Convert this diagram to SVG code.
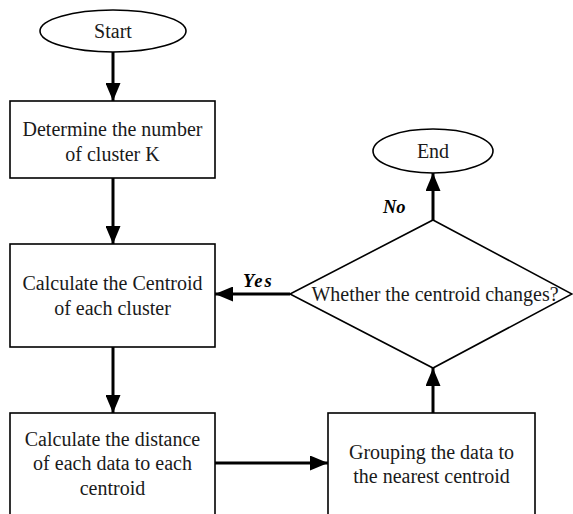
<svg xmlns="http://www.w3.org/2000/svg" width="573" height="514" viewBox="0 0 573 514">
  <style>
    .shape { fill: #ffffff; stroke: #000000; stroke-width: 1.6; }
    .label { font-family: "Liberation Serif", "Times New Roman", serif; font-size: 20px; fill: #1a1a1a; text-anchor: middle; }
    .tag { font-family: "Liberation Serif", "Times New Roman", serif; font-size: 18.5px; font-weight: bold; font-style: italic; fill: #000000; }
    .link { fill: none; stroke: #000000; stroke-width: 3; }
  </style>
  <defs>
    <marker id="arrow" viewBox="0 0 18 15" refX="18" refY="7.5" markerWidth="18" markerHeight="15" markerUnits="userSpaceOnUse" orient="auto">
      <path d="M0,0 L18,7.5 L0,15 Z" fill="#000000"/>
    </marker>
  </defs>
  <rect width="573" height="514" fill="#ffffff"/>

  <g id="start">
    <ellipse class="shape" cx="113" cy="31" rx="73" ry="21"/>
    <text class="label" x="113" y="38">Start</text>
  </g>

  <g id="determine-k">
    <rect class="shape" x="10" y="101" width="205" height="77"/>
    <text class="label" x="112.5" y="136">Determine the number</text>
    <text class="label" x="112.5" y="161">of cluster K</text>
  </g>

  <g id="calc-centroid">
    <rect class="shape" x="10" y="244" width="205" height="103"/>
    <text class="label" x="112.5" y="290">Calculate the Centroid</text>
    <text class="label" x="112.5" y="315">of each cluster</text>
  </g>

  <g id="calc-distance">
    <rect class="shape" x="10" y="413" width="205" height="110"/>
    <text class="label" x="112.5" y="446">Calculate the distance</text>
    <text class="label" x="112.5" y="470">of each data to each</text>
    <text class="label" x="112.5" y="495">centroid</text>
  </g>

  <g id="grouping">
    <rect class="shape" x="328" y="413" width="207" height="110"/>
    <text class="label" x="431.5" y="459">Grouping the data to</text>
    <text class="label" x="431.5" y="483">the nearest centroid</text>
  </g>

  <g id="decision">
    <polygon class="shape" points="433,220 572,294 433,368 290,294"/>
    <text class="label" x="435" y="301">Whether the centroid changes?</text>
  </g>

  <g id="end">
    <ellipse class="shape" cx="433" cy="151" rx="60" ry="22"/>
    <text class="label" x="433" y="158">End</text>
  </g>

  <g id="connectors">
    <line class="link" x1="113" y1="52" x2="113" y2="101" marker-end="url(#arrow)"/>
    <line class="link" x1="113" y1="178" x2="113" y2="244" marker-end="url(#arrow)"/>
    <line class="link" x1="113" y1="347" x2="113" y2="413" marker-end="url(#arrow)"/>
    <line class="link" x1="215" y1="463" x2="328" y2="463" marker-end="url(#arrow)"/>
    <line class="link" x1="433" y1="413" x2="433" y2="368" marker-end="url(#arrow)"/>
    <line class="link" x1="290" y1="294" x2="215" y2="294" marker-end="url(#arrow)"/>
    <line class="link" x1="433" y1="220" x2="433" y2="173" marker-end="url(#arrow)"/>
    <text class="tag" x="243" y="287" letter-spacing="2">Yes</text>
    <text class="tag" x="383" y="213">No</text>
  </g>
</svg>
